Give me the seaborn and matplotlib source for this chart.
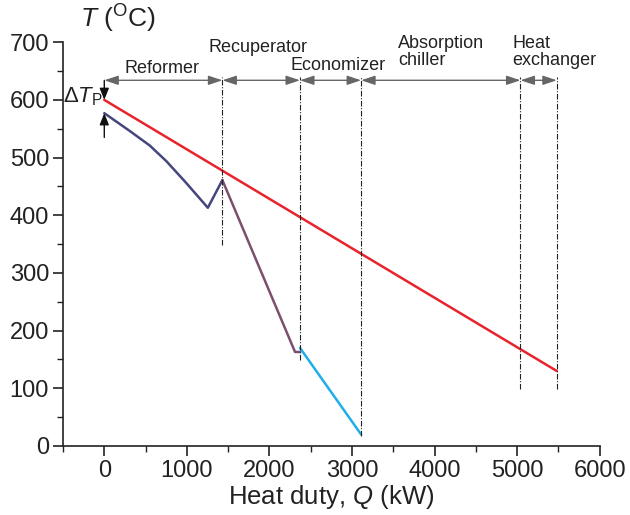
"""Composite curves of heat duty vs temperature for the heat recovery chain."""

import matplotlib

matplotlib.use("Agg")
import matplotlib.pyplot as plt
import pandas as pd
import seaborn as sns
from matplotlib.ticker import MultipleLocator

# Hot/cold stream data (Q in kW, T in degC)
red_q = [0, 5480]
red_t = [600, 130]
blue_q = [0, 300, 550, 750, 980, 1254, 1430]
blue_t = [577, 547, 521, 494, 458, 413, 461]
purple_q = [1430, 2310, 2370]
purple_t = [461, 163, 163]
cyan_q = [2370, 3110]
cyan_t = [170, 20]

# Equipment boundaries
bound_q = [1430, 2370, 3110, 5040, 5480]
bound_low = [348, 149, 17, 99, 99]
arrow_t = 634
sections = ["Reformer", "Recuperator", "Economizer", "Absorption\nchiller", "Heat\nexchanger"]

sns.set_theme(style="ticks")
plt.rcParams["font.family"] = ["Liberation Sans", "DejaVu Sans"]
plt.rcParams["mathtext.fontset"] = "custom"
plt.rcParams["mathtext.rm"] = "Liberation Sans"
plt.rcParams["mathtext.it"] = "Liberation Sans:italic"

fig, ax = plt.subplots(figsize=(6.3, 5.15), dpi=100)
fig.subplots_adjust(left=0.1, right=0.952, bottom=0.134, top=0.918)

streams = [
    (red_q, red_t, "#e8232b"),
    (blue_q, blue_t, "#45467f"),
    (purple_q, purple_t, "#7b4f6d"),
    (cyan_q, cyan_t, "#1eaee8"),
]
for q, t, col in streams:
    df = pd.DataFrame({"Q": q, "T": t})
    sns.lineplot(data=df, x="Q", y="T", sort=False, color=col, linewidth=1.8, ax=ax)

# dash-dot boundaries
for q, low in zip(bound_q, bound_low):
    ax.plot([q, q], [low, arrow_t + 6], color="#222222", lw=0.8,
            linestyle=(0, (5, 1.5, 1, 1.5)), clip_on=False)

# double-headed arrows across each section
starts = [0] + bound_q[:-1]
for a, b in zip(starts, bound_q):
    ax.annotate("", xy=(b, arrow_t), xytext=(a, arrow_t),
                arrowprops=dict(arrowstyle="<|-|>,head_length=0.6,head_width=0.2",
                                color="#666666", lw=1.0,
                                mutation_scale=14, shrinkA=0, shrinkB=0,
                                edgecolor="#222222", facecolor="#111111"),
                annotation_clip=False)

fs = 13
ax.text(700, 655, sections[0], ha="center", va="center", fontsize=fs, color="#222222")
ax.text(1862, 691, sections[1], ha="center", va="center", fontsize=fs, color="#222222", clip_on=False)
ax.text(2830, 659, sections[2], ha="center", va="center", fontsize=fs, color="#222222")
ax.text(3555, 713, sections[3], ha="left", va="top", fontsize=fs, color="#222222",
        linespacing=1.0, clip_on=False)
ax.text(4945, 713, sections[4], ha="left", va="top", fontsize=fs, color="#222222",
        linespacing=1.0, clip_on=False)

# pinch delta T arrows
ax.annotate("", xy=(0, 600), xytext=(0, arrow_t),
            arrowprops=dict(arrowstyle="-|>,head_length=0.5,head_width=0.2",
                            color="#111111", lw=1.0,
                            mutation_scale=14, shrinkA=0, shrinkB=0))
ax.annotate("", xy=(0, 577), xytext=(0, 535),
            arrowprops=dict(arrowstyle="-|>,head_length=0.5,head_width=0.2",
                            color="#111111", lw=1.0,
                            mutation_scale=14, shrinkA=0, shrinkB=0))
ax.text(-20, 606, r"$\Delta\mathit{T}_{\mathrm{P}}$", ha="right", va="center",
        fontsize=16, color="#222222")

ax.set_xlim(-500, 6000)
ax.set_ylim(0, 700)
ax.xaxis.set_major_locator(MultipleLocator(1000))
ax.xaxis.set_minor_locator(MultipleLocator(500))
ax.yaxis.set_major_locator(MultipleLocator(100))
ax.yaxis.set_minor_locator(MultipleLocator(50))
ax.tick_params(which="major", direction="out", length=7, width=1.2,
               labelsize=17, colors="#222222", pad=3)
ax.tick_params(which="minor", direction="out", length=4, width=1.0, colors="#222222")
for side in ["top", "right"]:
    ax.spines[side].set_visible(False)
for side in ["left", "bottom"]:
    ax.spines[side].set_linewidth(1.2)
    ax.spines[side].set_color("#222222")

ax.set_xlabel(r"Heat duty, $\mathit{Q}$ (kW)", fontsize=18.5, color="#222222", labelpad=1)
ax.set_ylabel("")
ax.text(-290, 740, r"$\mathit{T}$ ($^{\mathrm{O}}$C)", ha="left", va="center",
        fontsize=19, color="#222222", clip_on=False)

fig.savefig("out.png", dpi=100)
